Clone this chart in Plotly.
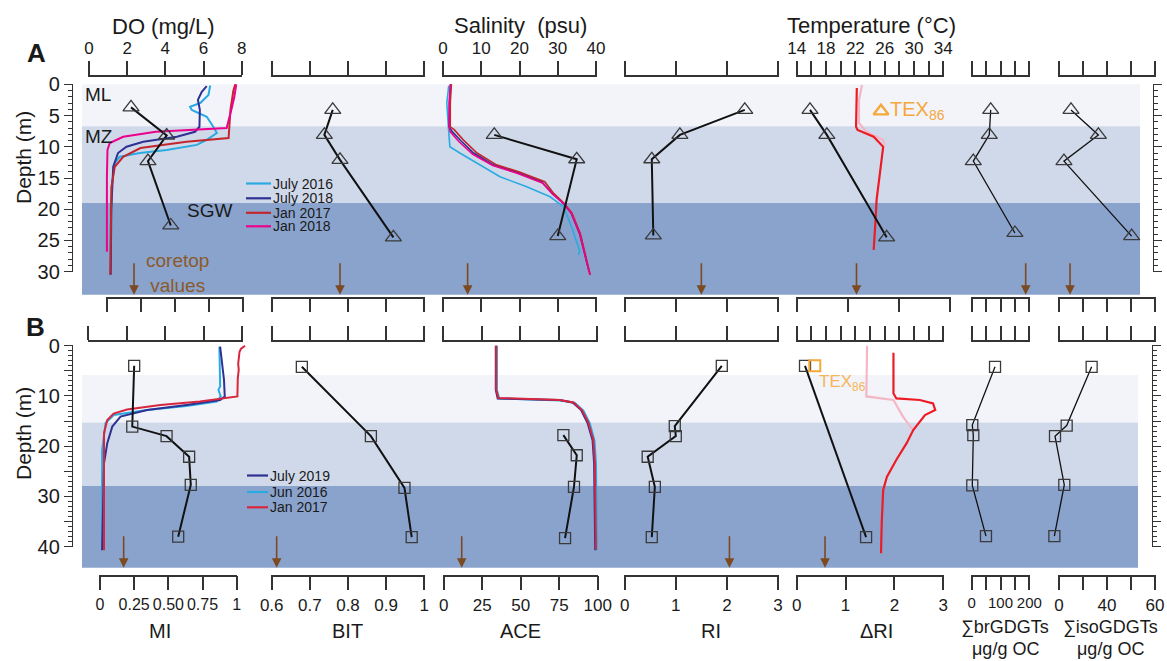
import plotly.graph_objects as go

W, H = 1167, 661
FONT = "Arial, Liberation Sans, sans-serif"
INK = "#1a1a1a"
AXC = "#333333"

# ======================= DATA =======================
# depth zones (m)
ZONE_NAMES = ["ML", "MZ", "SGW"]
ZONE_COLORS = ["#f2f4f9", "#d0d9ea", "#8aa3cd"]
A_ZONE_TOP = [0.0, 6.7, 19.0]
A_ZONE_BOT = [6.7, 19.0, 33.7]
B_ZONE_TOP = [5.85, 15.3, 27.9]
B_ZONE_BOT = [15.3, 27.9, 44.2]

# ---- Panel A: CTD profiles ----
A_DO_JUL16_D = [0.2, 1.7, 3.0, 3.6, 4.1, 5.2, 6.8, 7.8, 8.9, 9.7, 10.5, 11.0, 11.6, 12.6, 16.4, 22.0, 27.3]
A_DO_JUL16 = [6.34, 6.25, 5.82, 5.29, 5.38, 6.16, 6.50, 6.69, 6.16, 5.64, 4.07, 2.67, 1.62, 1.36, 1.20, 1.15, 1.15]
A_DO_JUL18_D = [0.3, 1.2, 2.5, 4.1, 6.8, 7.6, 8.4, 9.2, 10.0, 11.0, 13.2, 20.0, 30.5]
A_DO_JUL18 = [6.16, 5.90, 5.70, 5.80, 5.78, 5.55, 4.60, 2.85, 1.97, 1.53, 1.28, 1.18, 1.15]
A_DO_JAN17_D = [0.0, 1.0, 4.0, 6.0, 8.6, 9.2, 10.2, 11.6, 13.2, 16.4, 22.0, 30.5]
A_DO_JAN17 = [7.65, 7.55, 7.40, 7.35, 7.30, 5.10, 2.70, 1.80, 1.36, 1.19, 1.15, 1.12]
A_DO_JAN18_D = [0.0, 2.0, 4.0, 6.0, 7.0, 7.6, 8.4, 9.4, 10.5, 15.0, 20.0, 26.8]
A_DO_JAN18 = [7.70, 7.60, 7.45, 7.30, 7.20, 3.50, 1.80, 1.10, 0.98, 0.95, 0.95, 0.95]

A_SAL_JUL16_D = [0.2, 3.0, 6.8, 10.0, 11.0, 12.6, 14.8, 16.4, 18.0, 19.6, 22.8, 26.8, 27.3]
A_SAL_JUL16 = [1.5, 1.0, 1.4, 1.8, 4.4, 8.8, 14.9, 21.9, 28.0, 31.5, 33.6, 35.8, 35.3]
A_SAL_JUL18_D = [0.0, 3.0, 6.8, 7.5, 9.0, 11.0, 12.9, 14.0, 15.6, 17.5, 19.0, 20.6, 23.9, 30.0]
A_SAL_JUL18 = [2.0, 1.7, 1.6, 2.3, 4.6, 8.0, 13.2, 19.0, 25.8, 28.6, 31.4, 33.5, 35.7, 38.2]
A_SAL_JAN17_D = [0.0, 3.0, 6.8, 7.3, 8.9, 11.0, 12.9, 14.0, 15.6, 17.5, 19.0, 20.6, 23.9, 30.5]
A_SAL_JAN17 = [2.2, 1.9, 1.9, 3.0, 5.3, 8.9, 14.0, 19.8, 26.6, 29.0, 31.6, 33.7, 35.9, 38.5]
A_SAL_JAN18_D = [0.0, 3.0, 6.8, 7.6, 9.2, 11.2, 13.0, 14.2, 15.8, 17.6, 19.1, 20.7, 24.0, 30.5]
A_SAL_JAN18 = [1.9, 1.6, 1.6, 1.9, 4.2, 7.8, 13.0, 19.2, 26.0, 28.7, 31.5, 33.6, 35.8, 38.4]

A_TEMP1_D = [0.6, 6.8, 7.3, 8.4, 10.0, 14.2, 18.5, 22.8, 26.5]
A_TEMP1 = [22.2, 22.1, 22.3, 24.5, 25.8, 25.4, 24.9, 24.7, 24.5]
A_TEMP2_D = [0.1, 2.5, 6.2, 7.6, 8.9, 9.7]
A_TEMP2 = [22.9, 22.5, 22.5, 23.5, 25.8, 26.0]

# ---- Panel A: lipid proxies (triangles) ----
A_MI_D = [3.7, 8.2, 12.3, 22.6]
A_MI = [0.178, 0.439, 0.302, 0.469]
A_BIT_D = [4.1, 8.1, 12.1, 24.5]
A_BIT = [0.760, 0.738, 0.779, 0.919]
A_ACE_D = [8.1, 12.0, 24.3]
A_ACE = [33.5, 87.4, 75.0]
A_RI_D = [4.1, 8.1, 12.0, 24.2]
A_RI = [2.35, 1.08, 0.53, 0.56]
A_DRI_D = [4.1, 8.1, 24.5]
A_DRI = [0.26, 0.59, 1.76]
A_BR_D = [4.1, 8.1, 12.3, 23.8]
A_BR = [66, 61, 5.6, 150]
A_ISO_D = [4.1, 8.1, 12.3, 24.3]
A_ISO = [7.5, 24.6, 3.1, 45.4]
A_TEX_D = [4.3]
A_TEX_T = [25.5]
A_CORETOP = [0.20, 0.779, 16.1, 1.50, 1.17, 187.5, 6.9]

# ---- Panel B: CTD profiles ----
B_DO_JUL19_D = [0.2, 3.5, 6.8, 10.1, 10.8, 11.8, 12.8, 14.1, 16.1, 19.4, 23.4, 40.7]
B_DO_JUL19 = [6.86, 6.95, 7.06, 7.10, 6.86, 5.10, 3.05, 1.66, 1.23, 0.97, 0.80, 0.70]
B_DO_JUN16_D = [0.2, 8.1, 8.8, 10.1, 11.1, 12.0, 12.8, 13.8, 15.4, 20.8, 40.4]
B_DO_JUN16 = [6.82, 6.86, 6.77, 6.89, 6.68, 5.10, 3.05, 1.31, 0.88, 0.70, 0.70]
B_DO_JAN17_D = [0.0, 0.6, 1.2, 2.5, 3.6, 4.8, 6.5, 10.1, 10.5, 11.1, 11.8, 12.7, 13.5, 14.8, 17.4, 40.7]
B_DO_JAN17 = [8.16, 7.95, 7.87, 7.84, 7.80, 7.83, 7.78, 7.76, 6.86, 5.80, 3.74, 2.00, 1.30, 0.97, 0.80, 0.80]

B_SAL_JUL19_D = [0.0, 8.8, 10.5, 10.7, 10.8, 11.3, 12.8, 15.4, 18.8, 23.4, 40.7]
B_SAL_JUL19 = [13.8, 13.8, 14.3, 21.6, 30.4, 33.9, 36.1, 37.8, 39.1, 39.5, 39.8]
B_SAL_JUN16_D = [0.0, 8.8, 10.5, 10.7, 10.9, 11.4, 12.9, 15.5, 18.9, 23.5, 40.7]
B_SAL_JUN16 = [14.1, 14.1, 14.7, 22.2, 30.9, 34.5, 36.7, 38.4, 39.6, 40.0, 40.2]
B_SAL_JAN17_D = [0.0, 8.8, 10.4, 10.6, 10.8, 11.3, 12.8, 15.3, 18.7, 23.3, 40.6]
B_SAL_JAN17 = [13.9, 13.9, 14.5, 21.9, 30.6, 34.1, 36.3, 38.0, 39.3, 39.7, 40.0]

B_TEMP1_D = [1.4, 9.5, 10.5, 10.8, 11.5, 12.8, 13.8, 15.1, 16.8, 19.4, 22.7, 26.1, 28.7, 35.3, 41.3]
B_TEMP1 = [27.2, 27.2, 27.6, 30.8, 32.6, 32.9, 31.5, 30.8, 29.9, 29.0, 27.6, 26.3, 25.8, 25.6, 25.5]
B_TEMP2_D = [0.0, 10.1, 10.8, 14.1, 16.1, 16.8]
B_TEMP2 = [23.6, 23.5, 27.2, 28.5, 29.5, 29.9]

# ---- Panel B: lipid proxies (squares) ----
B_MI_D = [4.0, 16.1, 18.0, 22.1, 27.7, 38.0]
B_MI = [0.250, 0.236, 0.487, 0.652, 0.664, 0.572]
B_BIT_D = [4.2, 18.0, 28.3, 38.1]
B_BIT = [0.679, 0.860, 0.948, 0.967]
B_ACE_D = [17.8, 21.8, 28.1, 38.3]
B_ACE = [77.7, 86.4, 84.6, 78.8]
B_RI_D = [4.0, 16.0, 18.0, 22.1, 28.1, 38.1]
B_RI = [1.90, 0.98, 1.00, 0.45, 0.59, 0.53]
B_DRI_D = [4.0, 38.1]
B_DRI = [0.17, 1.42]
B_BR_D = [4.2, 15.8, 17.8, 27.8, 37.9]
B_BR = [81, 2, 5.6, 2, 49.6]
B_ISO_D = [4.2, 15.9, 18.0, 27.7, 37.9]
B_ISO = [20.4, 4.8, -2.5, 3.3, -2.9]
B_TEX_D = [4.0]
B_TEX_DRI = [0.37]
B_CORETOP = [0.173, 0.613, 11.7, 2.05, 0.58]

# tick labels
DO_TICKS = [0, 2, 4, 6, 8]
SAL_TICKS = [0, 10, 20, 30, 40]
TEMP_TICKS = [14, 16, 18, 20, 22, 24, 26, 28, 30, 32, 34]
TEMP_LABELS = ["14", "", "18", "", "22", "", "26", "", "30", "", "34"]
MI_TICKS = [0, 0.25, 0.5, 0.75, 1]
MI_LABELS = ["0", "0.25", "0.50", "0.75", "1"]
BIT_TICKS = [0.6, 0.7, 0.8, 0.9, 1.0]
BIT_LABELS = ["0.6", "0.7", "0.8", "0.9", "1"]
ACE_TICKS = [0, 25, 50, 75, 100]
RI_TICKS = [0, 1, 2, 3]
BR_TICKS = [0, 50, 100, 150, 200]
BR_LABELS = ["0", "", "100", "", "200"]
ISO_TICKS = [0, 15, 30, 45, 60]
ISO_LABELS = ["0", "", "40", "", "60"]

# ======================= LAYOUT HELPERS =======================
axes = {}
cnt = {"x": 0, "y": 0}
dummy_pairs = []


def add_axis(letter, **kw):
    cnt[letter] += 1
    n = cnt[letter]
    suffix = "" if n == 1 else str(n)
    axes[letter + "axis" + suffix] = kw
    return letter + suffix


def yp(p):
    return 1 - p / H


def lin(px0, px1, v0, v1, pad):
    s = (px1 - px0) / (v1 - v0)
    a = max(0.0, px0 - pad)
    b = min(float(W), px1 + pad)
    return dict(domain=[a / W, b / W], range=[v0 - (px0 - a) / s, v1 + (b - px1) / s])


A_D0 = 84.3
A_S = (271.7 - 84.3) / 30
B_D0 = 345.7
B_S = (546.7 - 345.7) / 40


def depth_vis(d0, s, dmax, xpx, side, labelled, label_every):
    top = d0 - 0.4
    bot = d0 + dmax * s + 0.4
    major = list(range(0, dmax + 1, 5))
    return add_axis(
        "y", domain=[yp(bot), yp(top)], range=[(bot - d0) / s, (top - d0) / s],
        anchor="free", position=xpx / W, side=side, showline=True, linecolor=AXC, linewidth=1.3,
        ticks="outside", ticklen=8, tickwidth=1.3, tickcolor=AXC, tickmode="array",
        tickvals=major, ticktext=[str(v) if v % label_every == 0 else "" for v in major],
        showticklabels=labelled, tickfont=dict(size=20, color=INK, family=FONT), tickangle=0,
        minor=dict(tickmode="array", tickvals=[v for v in range(0, dmax + 1) if v % 5],
                   ticks="outside", ticklen=4, tickwidth=1.1, tickcolor=AXC),
        showgrid=False, zeroline=False, fixedrange=True, automargin=False)


def bar(px0, px1, v0, v1, ypx, side, tickvals, ticktext=None, show=False, fsize=17):
    kw = lin(px0, px1, v0, v1, 0.6)
    kw.update(anchor="free", position=yp(ypx), side=side, showline=True, linecolor=AXC, linewidth=1.5,
              ticks="outside", ticklen=14, tickwidth=1.5, tickcolor=AXC, tickmode="array",
              tickvals=tickvals, ticktext=ticktext if ticktext else [str(v) for v in tickvals],
              showticklabels=show, tickfont=dict(size=fsize, color=INK, family=FONT), tickangle=0,
              showgrid=False, zeroline=False, fixedrange=True, automargin=False)
    ref = add_axis("x", **kw)
    dummy_pairs.append(ref)
    return ref


def dax(px0, px1, v0, v1, yref):
    kw = lin(px0, px1, v0, v1, 45)
    kw.update(visible=False, anchor=yref, showgrid=False, zeroline=False, fixedrange=True)
    return add_axis("x", **kw)


# ---- y axes ----
yA = depth_vis(A_D0, A_S, 30, 72, "left", True, 5)
yAr = depth_vis(A_D0, A_S, 30, 1153, "right", False, 5)
yB = depth_vis(B_D0, B_S, 40, 72, "left", True, 10)
yBr = depth_vis(B_D0, B_S, 40, 1152, "right", False, 10)
yAd = add_axis("y", domain=[yp(300), yp(40)], range=[(300 - A_D0) / A_S, (40 - A_D0) / A_S],
               visible=False, anchor="free", position=0, fixedrange=True)
yBd = add_axis("y", domain=[yp(600), yp(330)], range=[(600 - B_D0) / B_S, (330 - B_D0) / B_S],
               visible=False, anchor="free", position=0, fixedrange=True)

# ---- visible tick bars ----
# panel A top
bar(89, 241.7, 0, 8, 76, "top", DO_TICKS, show=True)
bar(271.7, 424.3, 0.6, 1.0, 76, "top", BIT_TICKS)
bar(443, 596, 0, 40, 76, "top", SAL_TICKS, show=True)
bar(624.7, 778, 0, 3, 76, "top", RI_TICKS)
bar(796.7, 943.3, 14, 34, 76, "top", TEMP_TICKS, TEMP_LABELS, show=True)
bar(971.7, 1029.3, 0, 200, 76, "top", BR_TICKS)
bar(1059, 1155, 0, 60, 76, "top", ISO_TICKS)
# panel A bottom
bar(106.7, 243.3, 0, 1, 297.7, "bottom", MI_TICKS)
bar(271.7, 424.3, 0.6, 1.0, 297.7, "bottom", BIT_TICKS)
bar(443, 596, 0, 100, 297.7, "bottom", ACE_TICKS)
bar(624.7, 778, 0, 3, 297.7, "bottom", RI_TICKS)
bar(796.7, 950, 0, 3, 297.7, "bottom", RI_TICKS)
bar(971.7, 1029.3, 0, 200, 297.7, "bottom", BR_TICKS)
bar(1059, 1155, 0, 60, 297.7, "bottom", ISO_TICKS)
# panel B top
bar(88.3, 242.3, 0, 8, 341, "top", DO_TICKS)
bar(271.7, 424.3, 0.6, 1.0, 341, "top", BIT_TICKS)
bar(443, 597, 0, 40, 341, "top", SAL_TICKS)
bar(624.7, 778, 0, 3, 341, "top", RI_TICKS)
bar(796.7, 943.3, 14, 34, 341, "top", TEMP_TICKS)
bar(971.7, 1029.3, 0, 200, 341, "top", BR_TICKS)
bar(1059, 1155, 0, 60, 341, "top", ISO_TICKS)
# panel B bottom (labelled)
bar(100, 236.7, 0, 1, 575.7, "bottom", MI_TICKS, MI_LABELS, show=True, fsize=16)
bar(271.7, 424.3, 0.6, 1.0, 575.7, "bottom", BIT_TICKS, BIT_LABELS, show=True)
bar(443.7, 597.7, 0, 100, 575.7, "bottom", ACE_TICKS, show=True)
bar(624.7, 778, 0, 3, 575.7, "bottom", RI_TICKS, show=True)
bar(796.7, 943.3, 0, 3, 575.7, "bottom", RI_TICKS, show=True)
bar(971.7, 1029.3, 0, 200, 575.7, "bottom", BR_TICKS, BR_LABELS, show=True, fsize=15)
bar(1059, 1155, 0, 60, 575.7, "bottom", ISO_TICKS, ISO_LABELS, show=True)

# ---- data axes ----
xDO = dax(88.7, 242.0, 0, 8, yAd)
xSAL = dax(443, 596, 0, 40, yAd)
xTEMP = dax(796.7, 943.3, 14, 34, yAd)

xA = [dax(106.7, 243.3, 0, 1, yAd), dax(271.7, 424.3, 0.6, 1.0, yAd), dax(443, 596, 0, 100, yAd),
      dax(624.7, 778, 0, 3, yAd), dax(796.7, 950, 0, 3, yAd), dax(971.7, 1029.3, 0, 200, yAd),
      dax(1059, 1155, 0, 60, yAd)]
xB = [dax(100, 236.7, 0, 1, yBd), dax(271.7, 424.3, 0.6, 1.0, yBd), dax(443.7, 597.7, 0, 100, yBd),
      dax(624.7, 778, 0, 3, yBd), dax(796.7, 943.3, 0, 3, yBd), dax(971.7, 1029.3, 0, 200, yBd),
      dax(1059, 1155, 0, 60, yBd)]

# ======================= FIGURE =======================
fig = go.Figure()

# empty traces so that every decorative axis gets its own subplot and is drawn
for xr in dummy_pairs:
    fig.add_trace(go.Scatter(x=[None], y=[None], xaxis=xr, yaxis=yAd, mode="markers",
                             showlegend=False, hoverinfo="skip"))
for yr in (yA, yAr, yB, yBr):
    fig.add_trace(go.Scatter(x=[None], y=[None], xaxis=xDO, yaxis=yr, mode="markers",
                             showlegend=False, hoverinfo="skip"))

C_LB = "#29abe2"
C_DB = "#2e3192"
C_RD = "#c1272d"
C_MG = "#ec008c"
C_RDB = "#d7263d"
C_TR = "#ed1c24"
C_TP = "#f5b6c6"
C_OR = "#f5a83c"
C_BR = "#7b4a22"


def prof(x, y, xa, ya, color, name, width=2.0):
    fig.add_trace(go.Scatter(x=x, y=y, xaxis=xa, yaxis=ya, mode="lines", name=name,
                             line=dict(color=color, width=width), hoverinfo="skip", showlegend=False))


def proxy(x, y, xa, ya, symbol, size, lw, name):
    fig.add_trace(go.Scatter(x=x, y=y, xaxis=xa, yaxis=ya, mode="lines+markers", name=name,
                             line=dict(color="#111111", width=lw),
                             marker=dict(symbol=symbol, size=size, color="#3a3a3a",
                                         line=dict(width=1.3, color="#3a3a3a")),
                             cliponaxis=False, hoverinfo="skip", showlegend=False))


# Panel A profiles
prof(A_DO_JUL16, A_DO_JUL16_D, xDO, yAd, C_LB, "July 2016")
prof(A_DO_JUL18, A_DO_JUL18_D, xDO, yAd, C_DB, "July 2018")
prof(A_DO_JAN17, A_DO_JAN17_D, xDO, yAd, C_RD, "Jan 2017")
prof(A_DO_JAN18, A_DO_JAN18_D, xDO, yAd, C_MG, "Jan 2018")
prof(A_SAL_JUL16, A_SAL_JUL16_D, xSAL, yAd, C_LB, "July 2016", 1.6)
prof(A_SAL_JUL18, A_SAL_JUL18_D, xSAL, yAd, C_DB, "July 2018", 1.6)
prof(A_SAL_JAN17, A_SAL_JAN17_D, xSAL, yAd, C_RD, "Jan 2017", 1.6)
prof(A_SAL_JAN18, A_SAL_JAN18_D, xSAL, yAd, C_MG, "Jan 2018", 1.6)
prof(A_TEMP2, A_TEMP2_D, xTEMP, yAd, C_TP, "Temperature (light)", 2.2)
prof(A_TEMP1, A_TEMP1_D, xTEMP, yAd, C_TR, "Temperature", 2.2)

# Panel B profiles
prof(B_DO_JUN16, B_DO_JUN16_D, xDO, yBd, C_LB, "Jun 2016")
prof(B_DO_JUL19, B_DO_JUL19_D, xDO, yBd, C_DB, "July 2019")
prof(B_DO_JAN17, B_DO_JAN17_D, xDO, yBd, C_RDB, "Jan 2017")
prof(B_SAL_JUN16, B_SAL_JUN16_D, xSAL, yBd, C_LB, "Jun 2016")
prof(B_SAL_JUL19, B_SAL_JUL19_D, xSAL, yBd, C_DB, "July 2019")
prof(B_SAL_JAN17, B_SAL_JAN17_D, xSAL, yBd, C_RDB, "Jan 2017")
prof(B_TEMP2, B_TEMP2_D, xTEMP, yBd, C_TP, "Temperature (light)", 2.2)
prof(B_TEMP1, B_TEMP1_D, xTEMP, yBd, C_TR, "Temperature", 2.2)

# Panel A proxies
A_SETS = [(A_MI, A_MI_D, "MI"), (A_BIT, A_BIT_D, "BIT"), (A_ACE, A_ACE_D, "ACE"), (A_RI, A_RI_D, "RI"),
          (A_DRI, A_DRI_D, "dRI"), (A_BR, A_BR_D, "brGDGTs"), (A_ISO, A_ISO_D, "isoGDGTs")]
for i, (xv, dv, nm) in enumerate(A_SETS):
    proxy(xv, dv, xA[i], yAd, "triangle-up-open", 14, 2.0 if i < 5 else 1.3, nm)
B_SETS = [(B_MI, B_MI_D, "MI"), (B_BIT, B_BIT_D, "BIT"), (B_ACE, B_ACE_D, "ACE"), (B_RI, B_RI_D, "RI"),
          (B_DRI, B_DRI_D, "dRI"), (B_BR, B_BR_D, "brGDGTs"), (B_ISO, B_ISO_D, "isoGDGTs")]
for i, (xv, dv, nm) in enumerate(B_SETS):
    proxy(xv, dv, xB[i], yBd, "square-open", 11, 2.0 if i < 5 else 1.3, nm)

# TEX86 points
fig.add_trace(go.Scatter(x=A_TEX_T, y=A_TEX_D, xaxis=xTEMP, yaxis=yAd, mode="markers", name="TEX86",
                         marker=dict(symbol="triangle-up-open", size=13, color=C_OR, line=dict(width=2.4, color=C_OR)),
                         cliponaxis=False, hoverinfo="skip", showlegend=False))
fig.add_trace(go.Scatter(x=B_TEX_DRI, y=B_TEX_D, xaxis=xB[4], yaxis=yBd, mode="markers", name="TEX86",
                         marker=dict(symbol="square-open", size=11, color=C_OR, line=dict(width=2.0, color=C_OR)),
                         cliponaxis=False, hoverinfo="skip", showlegend=False))

# ---- zone shading ----
shapes = []
for t, b, c in zip(A_ZONE_TOP, A_ZONE_BOT, ZONE_COLORS):
    shapes.append(dict(type="rect", xref="paper", yref=yAd, x0=82 / W, x1=1140 / W, y0=t, y1=b,
                       fillcolor=c, line=dict(width=0), layer="below"))
for t, b, c in zip(B_ZONE_TOP, B_ZONE_BOT, ZONE_COLORS):
    shapes.append(dict(type="rect", xref="paper", yref=yBd, x0=82 / W, x1=1138 / W, y0=t, y1=b,
                       fillcolor=c, line=dict(width=0), layer="below"))

# legend swatches
A_LEG = [("July 2016", C_LB, 183.5), ("July 2018", C_DB, 198.3), ("Jan 2017", C_RD, 212.8), ("Jan 2018", C_MG, 226.3)]
B_LEG = [("July 2019", C_DB, 475.5), ("Jun 2016", C_LB, 492.0), ("Jan 2017", C_RDB, 507.3)]
annotations = []
for lab, col, ypx in A_LEG:
    shapes.append(dict(type="line", xref="paper", yref="paper", x0=246 / W, x1=271 / W, y0=yp(ypx), y1=yp(ypx),
                       line=dict(color=col, width=2.2)))
    annotations.append(dict(text=lab, x=271 / W, y=yp(ypx), xref="paper", yref="paper", xanchor="left",
                            yanchor="middle", showarrow=False, font=dict(size=14, color=INK, family=FONT)))
for lab, col, ypx in B_LEG:
    shapes.append(dict(type="line", xref="paper", yref="paper", x0=247 / W, x1=268 / W, y0=yp(ypx), y1=yp(ypx),
                       line=dict(color=col, width=2.2)))
    annotations.append(dict(text=lab, x=268 / W, y=yp(ypx), xref="paper", yref="paper", xanchor="left",
                            yanchor="middle", showarrow=False, font=dict(size=14, color=INK, family=FONT)))


def txt(s, xpx, ypx, size, color=INK, xanchor="center", angle=0):
    annotations.append(dict(text=s, x=xpx / W, y=yp(ypx), xref="paper", yref="paper", xanchor=xanchor,
                            yanchor="middle", showarrow=False, textangle=angle,
                            font=dict(size=size, color=color, family=FONT)))


txt("<b>A</b>", 36, 53, 26)
txt("<b>B</b>", 35, 327, 26)
txt("Depth (m)", 23, 158, 21, angle=-90)
txt("Depth (m)", 23, 434, 21, angle=-90)
txt("DO (mg/L)", 163, 26, 22)
txt("Salinity\u00a0\u00a0(psu)", 520, 25, 22)
txt("Temperature (°C)", 871, 25, 22)
txt("ML", 83, 94, 19, xanchor="left")
txt("MZ", 83, 136, 19, xanchor="left")
txt("SGW", 185, 210, 19, xanchor="left")
txt("coretop<br>values", 177, 273, 19, color="#8b5a2b")
txt("TEX<sub>86</sub>", 888, 111, 20, color=C_OR, xanchor="left")
txt("TEX<sub>86</sub>", 817, 383, 17, color="#f7b55a", xanchor="left")
txt("MI", 160, 631, 20)
txt("BIT", 347, 631, 20)
txt("ACE", 520, 631, 20)
txt("RI", 711, 631, 20)
txt("ΔRI", 876, 631, 20)
txt("∑brGDGTs", 1005, 627, 18)
txt("μg/g OC", 1005, 649, 18)
txt("∑isoGDGTs", 1110, 627, 18)
txt("μg/g OC", 1110, 649, 18)

# coretop arrows
for i, v in enumerate(A_CORETOP):
    annotations.append(dict(x=v, y=A_ZONE_BOT[-1], xref=xA[i], yref=yAd, ax=0, ay=-33, axref="pixel",
                            ayref="pixel", showarrow=True, arrowhead=2, arrowsize=1.2, arrowwidth=1.6,
                            arrowcolor=C_BR, text=""))
for i, v in enumerate(B_CORETOP):
    annotations.append(dict(x=v, y=B_ZONE_BOT[-1], xref=xB[i], yref=yBd, ax=0, ay=-33, axref="pixel",
                            ayref="pixel", showarrow=True, arrowhead=2, arrowsize=1.2, arrowwidth=1.6,
                            arrowcolor=C_BR, text=""))

fig.update_layout(width=W, height=H, autosize=False,
                  margin=dict(l=0, r=0, t=0, b=0, pad=0, autoexpand=False),
                  paper_bgcolor="white", plot_bgcolor="rgba(0,0,0,0)", showlegend=False,
                  font=dict(family=FONT, color=INK), shapes=shapes, annotations=annotations, **axes)

fig.write_html("out.html")
